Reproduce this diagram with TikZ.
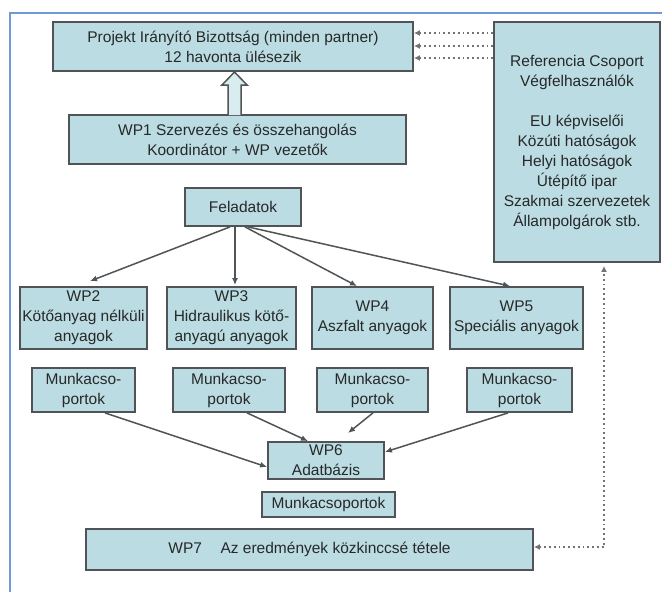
\documentclass[tikz,border=0pt]{standalone}
\usepackage{fontspec}
\setmainfont{Liberation Sans}
\usetikzlibrary{arrows.meta,calc}
\definecolor{boxfill}{RGB}{186,220,226}
\definecolor{boxline}{RGB}{80,84,86}
\definecolor{txt}{RGB}{40,40,40}
\definecolor{framec}{RGB}{110,155,215}
\definecolor{dotc}{RGB}{115,115,115}
\begin{document}
\begin{tikzpicture}[x=1pt,y=-1pt,
  box/.style={draw=boxline, fill=boxfill, line width=1.8pt, inner sep=0pt, align=center, text=txt, font=\fontsize{15.5}{20}\selectfont},
  conn/.style={draw=boxline, line width=1.5pt, -{Latex[length=7pt,width=6pt]}},
  dotconn/.style={draw=dotc, line width=1.8pt, dash pattern=on 1.8pt off 3pt},
  dottip/.style={-{Latex[length=6pt,width=6pt]}},
  blockarrow/.style={draw=boxline, fill=boxfill!55!white, line width=1.5pt, line join=miter},
  framestyle/.style={draw=framec, line width=1.8pt}
]
\useasboundingbox (0,0) rectangle (662,592);
\fill[white] (0,0) rectangle (662,592);
\draw[framestyle] (10,592) -- (10,13) -- (662,13);

\node[box, minimum width=360pt, minimum height=49pt] (proj) at (233,46.5) {Projekt Irányító Bizottság (minden partner)\\12 havonta ülésezik};
\node[box, minimum width=166pt, minimum height=240pt] (ref) at (577,142) {Referencia Csoport\\Végfelhasználók\\[20pt]EU képviselői\\Közúti hatóságok\\Helyi hatóságok\\Útépítő ipar\\Szakmai szervezetek\\Állampolgárok stb.};
\node[box, minimum width=337pt, minimum height=49pt] (wp1) at (237.5,139.5) {WP1 Szervezés és összehangolás\\Koordinátor + WP vezetők};
\node[box, minimum width=116pt, minimum height=38pt] (fel) at (243,207) {Feladatok};

\node[box, minimum width=127pt, minimum height=62pt] (wp2) at (83.5,318) {WP2\\Kötőanyag nélküli\\anyagok};
\node[box, minimum width=129pt, minimum height=62pt] (wp3) at (231.5,318) {WP3\\Hidraulikus kötő-\\anyagú anyagok};
\node[box, minimum width=121pt, minimum height=62pt] (wp4) at (372.5,318) {WP4\\Aszfalt anyagok};
\node[box, minimum width=133pt, minimum height=62pt] (wp5) at (516.5,318) {WP5\\Speciális anyagok};

\node[box, minimum width=103pt, minimum height=44pt] (mA) at (83.5,390) {Munkacso-\\portok};
\node[box, minimum width=112pt, minimum height=44pt] (mB) at (229,390) {Munkacso-\\portok};
\node[box, minimum width=111pt, minimum height=44pt] (mC) at (372.5,390) {Munkacso-\\portok};
\node[box, minimum width=105pt, minimum height=44pt] (mD) at (519.5,390) {Munkacso-\\portok};

\node[box, minimum width=116pt, minimum height=37pt] (wp6) at (326,460.5) {WP6\\Adatbázis};
\node[box, minimum width=133pt, minimum height=25pt] (mk) at (328.5,504.5) {Munkacsoportok};
\node[box, minimum width=447pt, minimum height=41pt] (wp7) at (309.5,549.5) {WP7\hspace{1.2em}Az eredmények közkinccsé tétele};

% hollow block arrow WP1 -> Projekt
\draw[blockarrow] (228,115) -- (228,85) -- (222,85) -- (234.5,72) -- (247,85) -- (241,85) -- (241,115);

% dotted links Referencia -> Projekt
\foreach \yy in {33,46,58}{
  \draw[dotconn, dottip] (ref.west |- 0,\yy) -- (proj.east |- 0,\yy);
}

% Feladatok -> WPs
\draw[conn] (fel.south -| 230,0) -- ($(wp2.north -| 90,0)+(0,-5)$);
\draw[conn] (fel.south -| 235,0) -- ($(wp3.north -| 235,0)+(0,-1)$);
\draw[conn] (fel.south -| 245,0) -- (wp4.north -| 357,0);
\draw[conn] (fel.south -| 248,0) -- (wp5.north -| 510,0);

% Munkacsoportok -> WP6
\coordinate (cTip) at (348,433);
\draw[conn] (mA.south -| 105,0) -- (wp6.west |- 0,467);
\draw[conn] (mB.south -| 247,0) -- (wp6.north -| 308,0);
\draw[conn] (mC.south -| 373,0) -- (cTip);
\draw[conn] (mD.south -| 508,0) -- (wp6.east |- 0,452);

% dotted link WP7 <-> Referencia
\coordinate (corner) at (604,547);
\draw[dotconn, {Latex[length=6pt,width=6pt]}-{Latex[length=6pt,width=6pt]}, shorten >=3pt] (wp7.east |- corner) -- (corner) -- (ref.south -| corner);
\end{tikzpicture}
\end{document}
